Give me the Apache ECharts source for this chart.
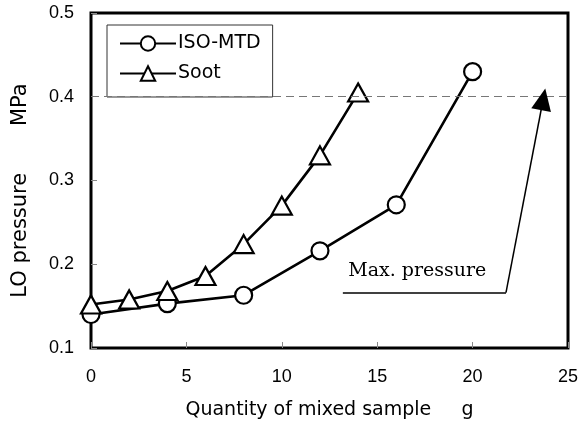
<!DOCTYPE html>
<html><head><meta charset="utf-8">
<script src="https://cdn.jsdelivr.net/npm/echarts@6/dist/echarts.min.js"></script>
<style>html,body{margin:0;padding:0;background:#fff}#c{width:587px;height:425px}</style>
</head><body><div id="c"></div>
<script>
const isoX = [0, 4, 8, 12, 16, 20];
const isoY = [0.140, 0.153, 0.163, 0.216, 0.271, 0.430];
const sootX = [0, 2, 4, 6, 8, 10, 12, 14];
const sootY = [0.152, 0.158, 0.168, 0.186, 0.224, 0.270, 0.330, 0.405];
const xTicks = [0, 5, 10, 15, 20, 25];
const yTicks = [0.1, 0.2, 0.3, 0.4, 0.5];
const maxPressure = 0.4;
const annoUnder = [[13.2, 0.166], [21.75, 0.166]];
const annoArrow = [[21.75, 0.166], [23.7, 0.397]];
const annoText = [17.1, 0.192];

const tickFont = '"Liberation Sans", Arial, sans-serif';
const nameFont = '"DejaVu Sans", sans-serif';
const chart = echarts.init(document.getElementById('c'));
chart.setOption({
  animation: false,
  backgroundColor: '#fff',
  grid: {left: 91, right: 19, top: 13, bottom: 77, show: true, borderColor: '#000', borderWidth: 3, backgroundColor: 'transparent'},
  legend: {
    left: 107, top: 25, orient: 'vertical',
    padding: [9, 12, 14, 12], itemGap: 11, itemWidth: 56, itemHeight: 18,
    borderColor: '#333', borderWidth: 1, backgroundColor: '#fff',
    textStyle: {fontFamily: nameFont, fontSize: 19, color: '#000', padding: [0, 0, 0, -3]},
    data: ['ISO-MTD', 'Soot']
  },
  xAxis: {
    type: 'value', min: 0, max: 25, interval: 5,
    name: 'Quantity of mixed sample     g', nameLocation: 'middle', nameGap: 53,
    nameTextStyle: {fontFamily: nameFont, fontSize: 19, color: '#000'},
    axisLine: {show: false},
    axisTick: {inside: true, length: 6, lineStyle: {color: '#888'}},
    splitLine: {show: false},
    axisLabel: {fontFamily: tickFont, fontSize: 18, color: '#000', margin: 20,
      formatter: v => xTicks.includes(v) ? String(v) : ''}
  },
  yAxis: {
    type: 'value', min: 0.1, max: 0.5, interval: 0.1,
    name: 'LO pressure       MPa   ', nameLocation: 'middle', nameGap: 60,
    nameTextStyle: {fontFamily: nameFont, fontSize: 21, color: '#000'},
    axisLine: {show: false},
    axisTick: {inside: true, length: 6, lineStyle: {color: '#888'}},
    splitLine: {show: false},
    axisLabel: {fontFamily: tickFont, fontSize: 18, color: '#000', margin: 17,
      formatter: v => { const t = yTicks.find(y => Math.abs(y - v) < 1e-9); return t !== undefined ? t.toFixed(1) : ''; }}
  },
  series: [
    {
      name: 'ISO-MTD', type: 'line', data: isoX.map((x, i) => [x, isoY[i]]),
      symbol: 'circle', symbolSize: 17, showAllSymbol: true,
      lineStyle: {color: '#000', width: 2.6},
      itemStyle: {color: '#fff', borderColor: '#000', borderWidth: 2.2},
      z: 3,
      markLine: {
        silent: true, symbol: 'none', label: {show: false},
        lineStyle: {color: '#777', type: [8, 5], width: 1},
        data: [{yAxis: maxPressure}]
      }
    },
    {
      name: 'Soot', type: 'line', data: sootX.map((x, i) => [x, sootY[i]]),
      symbol: 'triangle', symbolSize: [20, 18], showAllSymbol: true,
      lineStyle: {color: '#000', width: 2.6},
      itemStyle: {color: '#fff', borderColor: '#000', borderWidth: 2.2},
      z: 4,
      markLine: {
        silent: true, label: {show: false},
        lineStyle: {color: '#000', type: 'solid', width: 1.5},
        data: [
          [{coord: annoUnder[0], symbol: 'none'}, {coord: annoUnder[1], symbol: 'none'}],
          [{coord: annoArrow[0], symbol: 'none'}, {coord: annoArrow[1], symbol: 'triangle', symbolSize: [20, 22]}]
        ]
      },
      markPoint: {
        silent: true, symbol: 'rect', symbolSize: 1, itemStyle: {color: 'transparent'},
        label: {show: true, formatter: 'Max. pressure', color: '#000', fontFamily: '"DejaVu Serif", serif', fontSize: 19, position: 'inside'},
        data: [{coord: annoText}]
      }
    }
  ]
});
</script></body></html>
